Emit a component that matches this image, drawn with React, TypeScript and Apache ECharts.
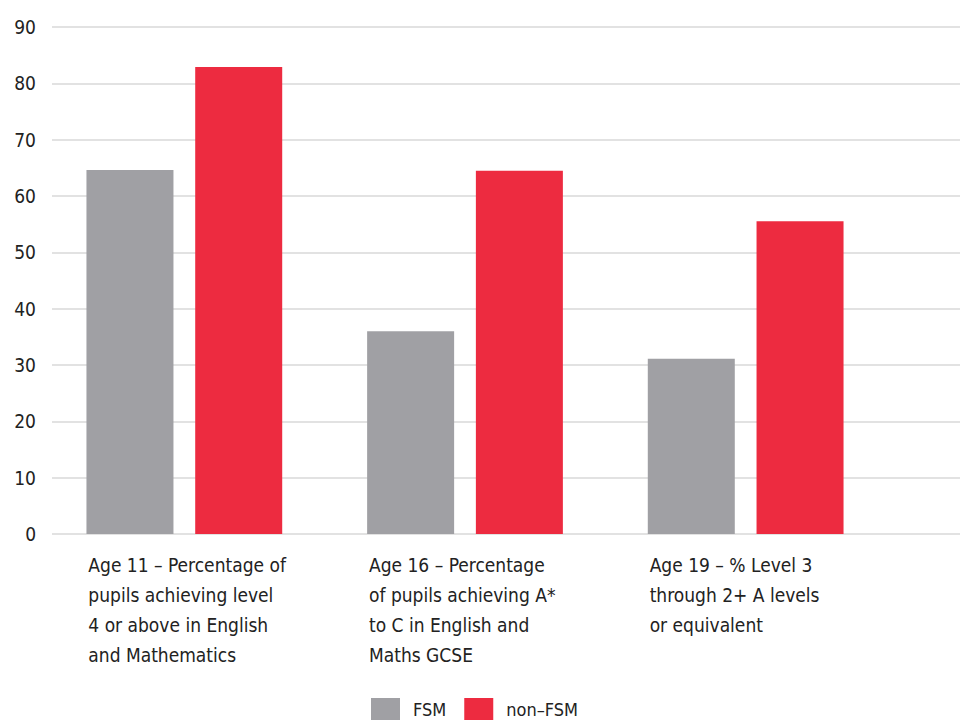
import React, { useEffect, useRef } from "react";
import * as echarts from "echarts";

const categories = [
  ["Age 11 – Percentage of", "pupils achieving level", "4 or above in English", "and Mathematics"],
  ["Age 16 – Percentage", "of pupils achieving A*", "to C in English and", "Maths GCSE"],
  ["Age 19 – % Level 3", "through 2+ A levels", "or equivalent"],
];
const seriesNames = ["FSM", "non–FSM"];
const fsmValues = [64.6, 36.0, 31.1];
const nonFsmValues = [82.9, 64.5, 55.5];
const yTicks = { min: 0, max: 90, interval: 10 };

const FONT = "'Liberation Sans Narrow', 'DejaVu Sans Condensed', 'Roboto', sans-serif";

export default function App() {
  const ref = useRef<HTMLDivElement>(null);
  useEffect(() => {
    if (!ref.current) return;
    const chart = echarts.init(ref.current, undefined, { renderer: "svg" });
    const catKeys = categories.map((_, i) => "c" + i);
    chart.setOption({
      animation: false,
      backgroundColor: "#ffffff",
      textStyle: { fontFamily: FONT },
      legend: {
        data: seriesNames,
        left: 371,
        top: 698,
        padding: 0,
        itemWidth: 29,
        itemHeight: 22,
        itemGap: 18,
        icon: "rect",
        textStyle: { fontFamily: FONT, fontSize: 18, lineHeight: 20, color: "#222", padding: [0, 0, 0, 8] },
      },
      grid: [
        { left: 52, right: 0, top: 27, height: 507 },
        { left: 44, width: 842, top: 27, height: 507 },
      ],
      xAxis: [
        { type: "value", gridIndex: 0, show: false, min: 0, max: 1 },
        {
          type: "category",
          gridIndex: 1,
          data: catKeys,
          axisLine: { show: false },
          axisTick: { show: false },
          axisLabel: {
            interval: 0,
            margin: 16,
            formatter: (v: string) => {
              const i = catKeys.indexOf(v);
              return categories[i].map((l) => "{a|" + l + "}").join("\n");
            },
            rich: {
              a: {
                width: 192,
                align: "left",
                fontFamily: FONT,
                fontSize: 19,
                lineHeight: 30,
                color: "#222",
              },
            },
          },
        },
      ],
      yAxis: [
        {
          type: "value",
          gridIndex: 0,
          min: yTicks.min,
          max: yTicks.max,
          interval: yTicks.interval,
          axisLine: { show: false },
          axisTick: { show: false },
          axisLabel: { fontFamily: FONT, fontSize: 19, color: "#222", margin: 16 },
          splitLine: { lineStyle: { color: "#d8d8d8", width: 1.5 } },
        },
        {
          type: "value",
          gridIndex: 1,
          min: yTicks.min,
          max: yTicks.max,
          interval: yTicks.interval,
          show: false,
          splitLine: { show: false },
        },
      ],
      series: [
        {
          name: seriesNames[0],
          type: "bar",
          xAxisIndex: 1,
          yAxisIndex: 1,
          data: fsmValues,
          barWidth: 87,
          barGap: "25%",
          itemStyle: { color: "#a0a0a4" },
        },
        {
          name: seriesNames[1],
          type: "bar",
          xAxisIndex: 1,
          yAxisIndex: 1,
          data: nonFsmValues,
          barWidth: 87,
          barGap: "25%",
          itemStyle: { color: "#ed2b40" },
        },
      ],
    });
    return () => chart.dispose();
  }, []);
  return (
    <div
      ref={ref}
      style={{ position: "absolute", left: 0, top: 0, width: 960, height: 726 }}
    />
  );
}
